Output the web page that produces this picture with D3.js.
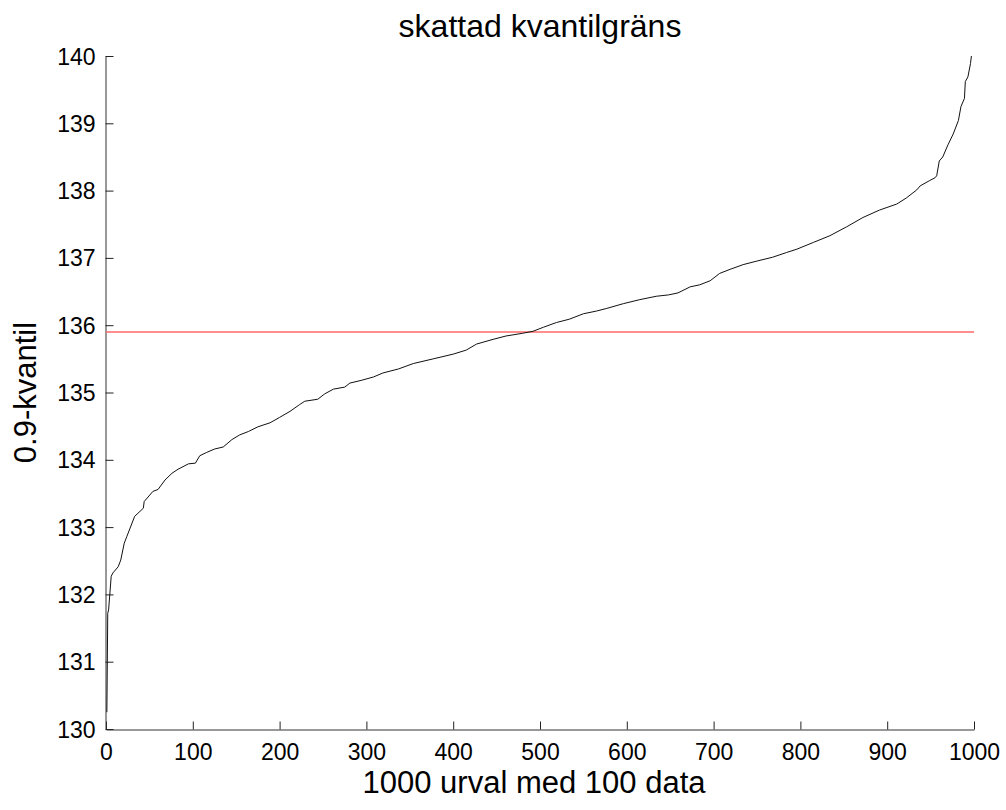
<!DOCTYPE html>
<html>
<head>
<meta charset="utf-8">
<script src="https://cdn.jsdelivr.net/npm/d3@7"></script>
<style>
  html, body { margin: 0; padding: 0; background: #fff; }
  svg { display: block; font-family: "Liberation Sans", Arial, sans-serif; }
</style>
</head>
<body>
<div id="main-container"></div>
<script>
// Data: sample index and sorted 0.9-quantile estimates
const sampleIdx = [1, 2, 3, 6, 8, 14, 17, 21, 24, 30, 33, 43, 44, 54, 60, 68, 76, 83, 95, 103,
  108, 116, 125, 135, 145, 154, 164, 175, 189, 200, 212, 223, 229, 244, 252, 262, 275, 281, 294, 308,
  319, 337, 354, 377, 400, 415, 427, 446, 461, 480, 492, 504, 519, 534, 550, 565, 577, 596, 615, 634,
  648, 659, 673, 684, 696, 707, 719, 734, 749, 768, 784, 796, 815, 834, 853, 872, 891, 911, 922, 934,
  938, 949, 955, 957, 960, 964, 970, 976, 982, 985, 989, 990, 993, 996, 997];
const quantileEst = [130.25, 131.72, 131.77, 132.27, 132.32, 132.41, 132.51, 132.76, 132.86, 133.06,
  133.16, 133.28, 133.38, 133.53, 133.56, 133.70, 133.80, 133.86, 133.94, 133.95,
  134.06, 134.11, 134.16, 134.19, 134.30, 134.37, 134.42, 134.49, 134.55, 134.63,
  134.72, 134.82, 134.87, 134.90, 134.98, 135.05, 135.08, 135.14, 135.18, 135.23,
  135.29, 135.35, 135.43, 135.50, 135.57, 135.63, 135.72, 135.79, 135.84, 135.88,
  135.91, 135.97, 136.04, 136.09, 136.17, 136.21, 136.25, 136.32, 136.38, 136.43,
  136.45, 136.48, 136.57, 136.60, 136.66, 136.77, 136.83, 136.90, 136.95, 137.01,
  137.08, 137.13, 137.23, 137.33, 137.46, 137.60, 137.71, 137.80, 137.89, 138.01,
  138.07, 138.15, 138.19, 138.22, 138.44, 138.50, 138.68, 138.84, 139.04, 139.25,
  139.37, 139.62, 139.69, 139.89, 140.00];
const trueQuantile = 135.9;

const xTicks = [0, 100, 200, 300, 400, 500, 600, 700, 800, 900, 1000];
const yTicks = [130, 131, 132, 133, 134, 135, 136, 137, 138, 139, 140];

const TITLE = 'skattad kvantilgräns';
const X_LABEL = '1000 urval med 100 data';
const Y_LABEL = '0.9-kvantil';

const WIDTH = 1006;
const HEIGHT = 810;
const MARGIN = { top: 56, right: 32, bottom: 81, left: 106 };

const svg = d3.select('#main-container').append('svg')
    .attr('width', WIDTH)
    .attr('height', HEIGHT);

const x = d3.scaleLinear()
    .domain([0, 1000])
    .range([MARGIN.left, WIDTH - MARGIN.right]);

const y = d3.scaleLinear()
    .domain([130, 140])
    .range([HEIGHT - MARGIN.bottom, MARGIN.top]);

// Axes (ticks pointing inward, MATLAB style)
const xAxis = d3.axisBottom(x)
    .tickValues(xTicks)
    .tickSizeInner(-8)
    .tickSizeOuter(0)
    .tickPadding(14)
    .tickFormat(d3.format('d'));

const yAxis = d3.axisLeft(y)
    .tickValues(yTicks)
    .tickSizeInner(-8)
    .tickSizeOuter(0)
    .tickPadding(10)
    .tickFormat(d3.format('d'));

const gx = svg.append('g')
    .attr('transform', `translate(0, ${HEIGHT - MARGIN.bottom + 0.5})`)
    .call(xAxis);

const gy = svg.append('g')
    .attr('transform', `translate(${MARGIN.left - 0.5}, 0)`)
    .call(yAxis);

[gx, gy].forEach(g => {
    g.select('.domain').attr('stroke', '#333');
    g.selectAll('.tick line').attr('stroke', '#222');
    g.selectAll('.tick text')
        .attr('fill', '#000')
        .style('font-size', '23px')
        .style('font-family', '"Liberation Sans", Arial, sans-serif');
});
gy.selectAll('.tick text').attr('dy', '0.35em');

// Reference line
svg.append('line')
    .attr('x1', x(0))
    .attr('x2', x(1000))
    .attr('y1', y(trueQuantile))
    .attr('y2', y(trueQuantile))
    .attr('stroke', '#ff6a6a')
    .attr('stroke-width', 1.6);

// Estimated quantiles
const pts = sampleIdx.map((d, i) => [d, quantileEst[i]]);
const line = d3.line()
    .x(d => x(d[0]))
    .y(d => y(d[1]));

svg.append('path')
    .datum(pts)
    .attr('d', line)
    .attr('fill', 'none')
    .attr('stroke', '#111')
    .attr('stroke-width', 1);

// Title and labels
svg.append('text')
    .attr('x', (x(0) + x(1000)) / 2)
    .attr('y', 37)
    .attr('text-anchor', 'middle')
    .style('font-size', '32px')
    .text(TITLE);

svg.append('text')
    .attr('x', (x(0) + x(1000)) / 2 - 6)
    .attr('y', 793)
    .attr('text-anchor', 'middle')
    .style('font-size', '31px')
    .text(X_LABEL);

svg.append('text')
    .attr('transform', `translate(36, ${(y(130) + y(140)) / 2}) rotate(-90)`)
    .attr('text-anchor', 'middle')
    .style('font-size', '31px')
    .text(Y_LABEL);
</script>
</body>
</html>
